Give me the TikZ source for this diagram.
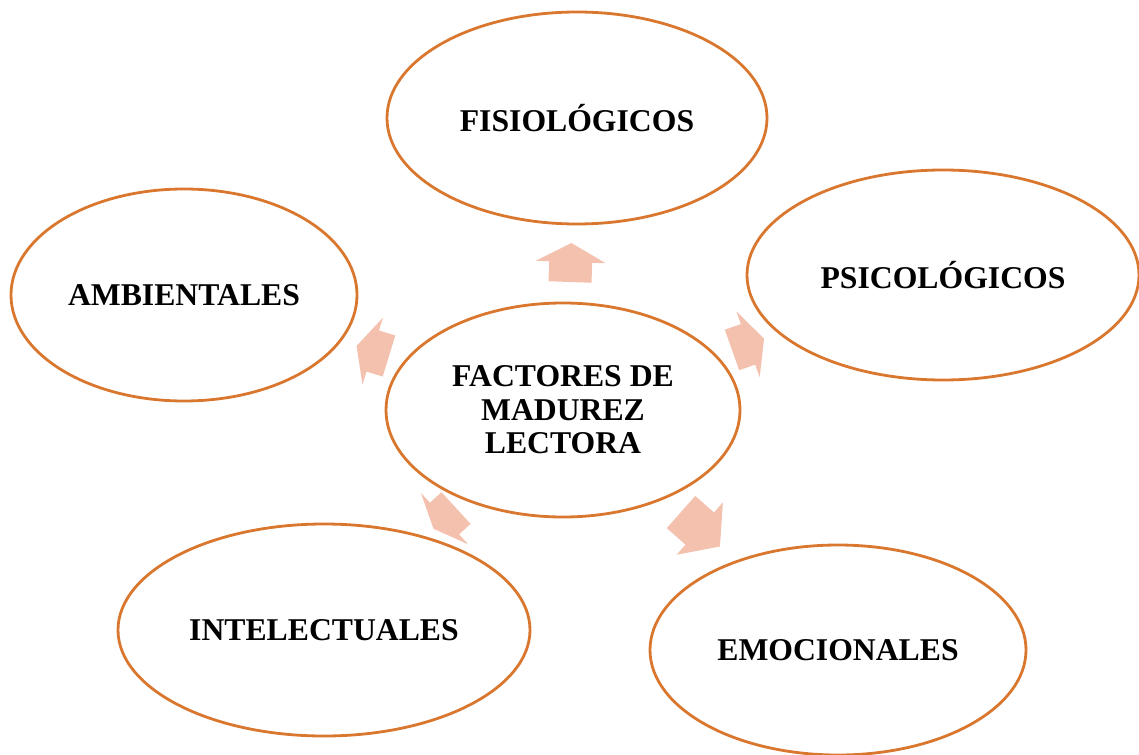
\documentclass[tikz,border=0pt]{standalone}
\usepackage{fontspec}
\setmainfont{Liberation Serif}
\usetikzlibrary{shapes.geometric}
\definecolor{ringc}{HTML}{DA772F}
\definecolor{arrc}{HTML}{F4C1AE}
\tikzset{
  ring/.style={draw=ringc, line width=2.8pt, ellipse, inner sep=0pt,
    font=\fontsize{31.7}{33.5}\selectfont\bfseries, align=center},
  arrowfill/.style={fill=arrc, draw=none}
}
% name, x, y, angle, shaft length, head length
\newcommand\blockarrow[6]{%
  \begin{scope}[shift={(#2,#3)}, rotate=#4]
    \coordinate (#1) at (0,0);
    \fill[arrowfill] (0,-21.5) -- (#5,-21.5) -- (#5,-35) -- ({#5+#6},0)
      -- (#5,35) -- (#5,21.5) -- (0,21.5) -- cycle;
  \end{scope}}
\begin{document}
\begin{tikzpicture}[x=1pt,y=-1pt]
\useasboundingbox (0,0) rectangle (1139,754);
\blockarrow{aTop}{570}{282}{88}{20}{19}
\blockarrow{aRight}{732}{350}{19.5}{17}{17}
\blockarrow{aLeft}{389}{356}{163}{17}{17}
\blockarrow{aBL}{456}{508}{222.6}{15.6}{15}
\blockarrow{aBR}{681}{512}{-41.5}{25}{27}
\node[ring, minimum width=354pt, minimum height=214pt] (center) at (563,410) {FACTORES DE\\MADUREZ\\LECTORA};
\node[ring, minimum width=380pt, minimum height=212pt] (fis) at (577,118) {FISIOLÓGICOS};
\node[ring, minimum width=392pt, minimum height=210pt] (psi) at (943,275) {PSICOLÓGICOS};
\node[ring, minimum width=346pt, minimum height=212pt] (amb) at (184,295) {AMBIENTALES};
\node[ring, minimum width=412pt, minimum height=212pt] (int) at (324,630) {INTELECTUALES};
\node[ring, minimum width=376pt, minimum height=210pt] (emo) at (838,650) {EMOCIONALES};
\end{tikzpicture}
\end{document}
